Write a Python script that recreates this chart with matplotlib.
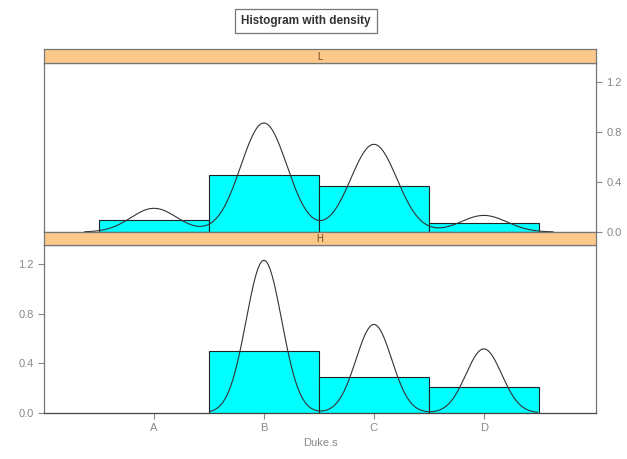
import numpy as np
import matplotlib
matplotlib.use("Agg")
import matplotlib.pyplot as plt

plt.rcParams['font.family'] = ['Liberation Sans', 'DejaVu Sans']

# Dukes stage (A-D coded 1-4), density per bin (bin width 1)
stages = ['A', 'B', 'C', 'D']
pos = [1, 2, 3, 4]

low_pos = [1, 2, 3, 4]
low_dens = [0.10, 0.46, 0.37, 0.07]
low_bw = 0.21

high_pos = [2, 3, 4]
high_dens = [0.50, 0.29, 0.21]
high_bw = 0.162

W, H = 627, 459
fig = plt.figure(figsize=(W / 100, H / 100), dpi=100)

frame_col = '#777777'
tick_col = '#888888'
strip_col = '#FDC98A'


def fy(y):
    return 1 - y / H


def kde(x0, p, bw):
    x0 = np.asarray(x0, float)
    p = np.asarray(p, float)
    xs = np.linspace(x0.min() - 3 * bw, x0.max() + 3 * bw, 400)
    ys = np.zeros_like(xs)
    for c, w in zip(x0, p):
        ys += w * np.exp(-0.5 * ((xs - c) / bw) ** 2) / (np.sqrt(2 * np.pi) * bw)
    return xs, ys


def panel(top, bottom, x0, p, bw):
    ax = fig.add_axes([44 / W, fy(bottom), 552 / W, (bottom - top) / H])
    ax.bar(x0, p, width=1, align='center', color='#00FFFF',
           edgecolor='#222222', linewidth=0.8, zorder=2)
    xs, ys = kde(x0, p, bw)
    ax.plot(xs, ys, color='#333333', lw=0.8, zorder=3)
    ax.set_xlim(0, 5.02)
    ax.set_ylim(0, 1.355)
    for s in ax.spines.values():
        s.set_color(frame_col)
        s.set_linewidth(0.9)
    ax.tick_params(colors=tick_col, labelcolor=tick_col, labelsize=8,
                   length=4, width=0.8)
    ax.set_yticks([0.0, 0.4, 0.8, 1.2])
    ax.set_yticklabels(['0.0', '0.4', '0.8', '1.2'])
    return ax


def strip(top, bottom, label):
    sa = fig.add_axes([44 / W, fy(bottom), 552 / W, (bottom - top) / H])
    sa.set_facecolor(strip_col)
    sa.set_xticks([])
    sa.set_yticks([])
    for s in sa.spines.values():
        s.set_color(frame_col)
        s.set_linewidth(0.9)
    sa.text(0.5, 0.45, label, transform=sa.transAxes, ha='center', va='center',
            fontsize=7, color='#6a4a20')


ax_top = panel(63, 232, low_pos, low_dens, low_bw)
ax_top.set_xticks([])
ax_top.yaxis.tick_right()

ax_bot = panel(245, 413, high_pos, high_dens, high_bw)
ax_bot.set_xticks(pos)
ax_bot.set_xticklabels(stages)
ax_bot.spines['bottom'].set_color('#444444')
ax_bot.set_xlabel('Duke.s', fontsize=8, color='#888888', labelpad=3)

strip(49, 63, 'L')
strip(232, 245, 'H')

fig.text(306 / W, fy(21), 'Histogram with density', ha='center', va='center',
         fontsize=8.5, fontweight='bold', color='#333333',
         bbox=dict(boxstyle='square,pad=0.5', facecolor='white',
                   edgecolor='#777777', linewidth=0.9))

fig.savefig('out.png', dpi=100)
